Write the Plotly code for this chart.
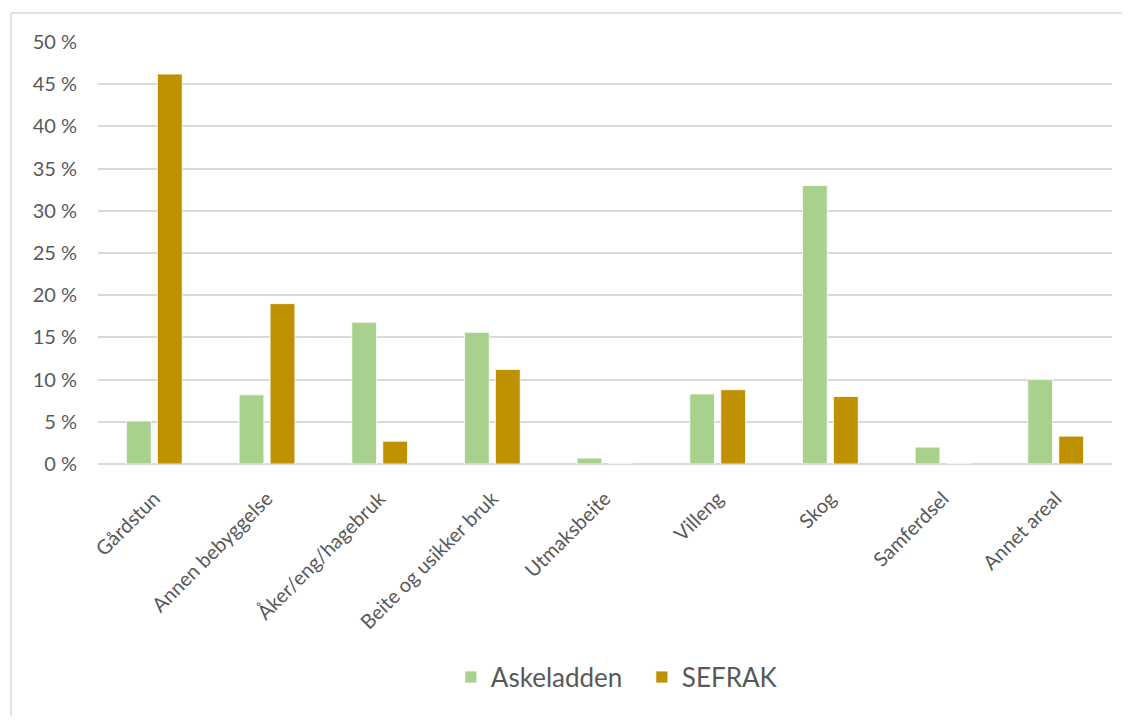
import plotly.graph_objects as go

categories = ["Gårdstun", "Annen bebyggelse", "Åker/eng/hagebruk", "Beite og usikker bruk",
              "Utmaksbeite", "Villeng", "Skog", "Samferdsel", "Annet areal"]
askeladden = [5.1, 8.2, 16.8, 15.6, 0.7, 8.3, 33.0, 2.0, 10.0]
sefrak = [46.2, 19.0, 2.7, 11.2, 0.0, 8.8, 8.0, 0.0, 3.3]
tick_vals = [0, 5, 10, 15, 20, 25, 30, 35, 40, 45, 50]
tick_text = [f"{v} %" for v in tick_vals]

font_family = "Lato, Open Sans, sans-serif"
text_color = "#595959"
border = dict(color="#D9D9D9", width=1.5)

fig = go.Figure()
fig.add_trace(go.Bar(x=categories, y=askeladden, name="Askeladden",
                     marker=dict(color="#A9D18E", line=dict(color="white", width=0.8))))
fig.add_trace(go.Bar(x=categories, y=sefrak, name="SEFRAK",
                     marker=dict(color="#BF9000", line=dict(color="white", width=0.8))))

bx = (3 - 90) / 1014
by = (456 - 5) / 422

# page body has an 8px margin; figure sized so the page does not scroll
fig.update_layout(
    width=1114, height=708,
    margin=dict(l=90, r=10, t=34, b=252),
    paper_bgcolor="white", plot_bgcolor="white",
    barmode="group", bargap=0.45, bargroupgap=0.2,
    font=dict(family=font_family, color=text_color, size=19),
    legend=dict(orientation="h", x=0.348, xanchor="left", y=-0.505, yanchor="middle",
                font=dict(size=26, color=text_color), itemwidth=30, entrywidth=146,
                entrywidthmode="pixels", traceorder="normal"),
    showlegend=True,
    shapes=[
        dict(type="line", xref="paper", yref="paper", x0=bx, x1=bx, y0=-1.5, y1=by,
             line=border, layer="below"),
        dict(type="line", xref="paper", yref="paper", x0=bx, x1=1.5, y0=by, y1=by,
             line=border, layer="below"),
    ],
)
fig.update_xaxes(tickangle=-45, tickfont=dict(size=20, color=text_color), showgrid=False,
                 showline=False, ticks="", ticklen=0, ticklabelstandoff=18)
fig.update_yaxes(range=[0, 50], tickvals=tick_vals, ticktext=tick_text,
                 tickfont=dict(size=20, color=text_color), showgrid=True,
                 gridcolor="#D9D9D9", gridwidth=1.5, zeroline=True, zerolinecolor="#D9D9D9",
                 zerolinewidth=1.5, showline=False, ticks="", ticklabelstandoff=20)

fig.write_html("out.html")
